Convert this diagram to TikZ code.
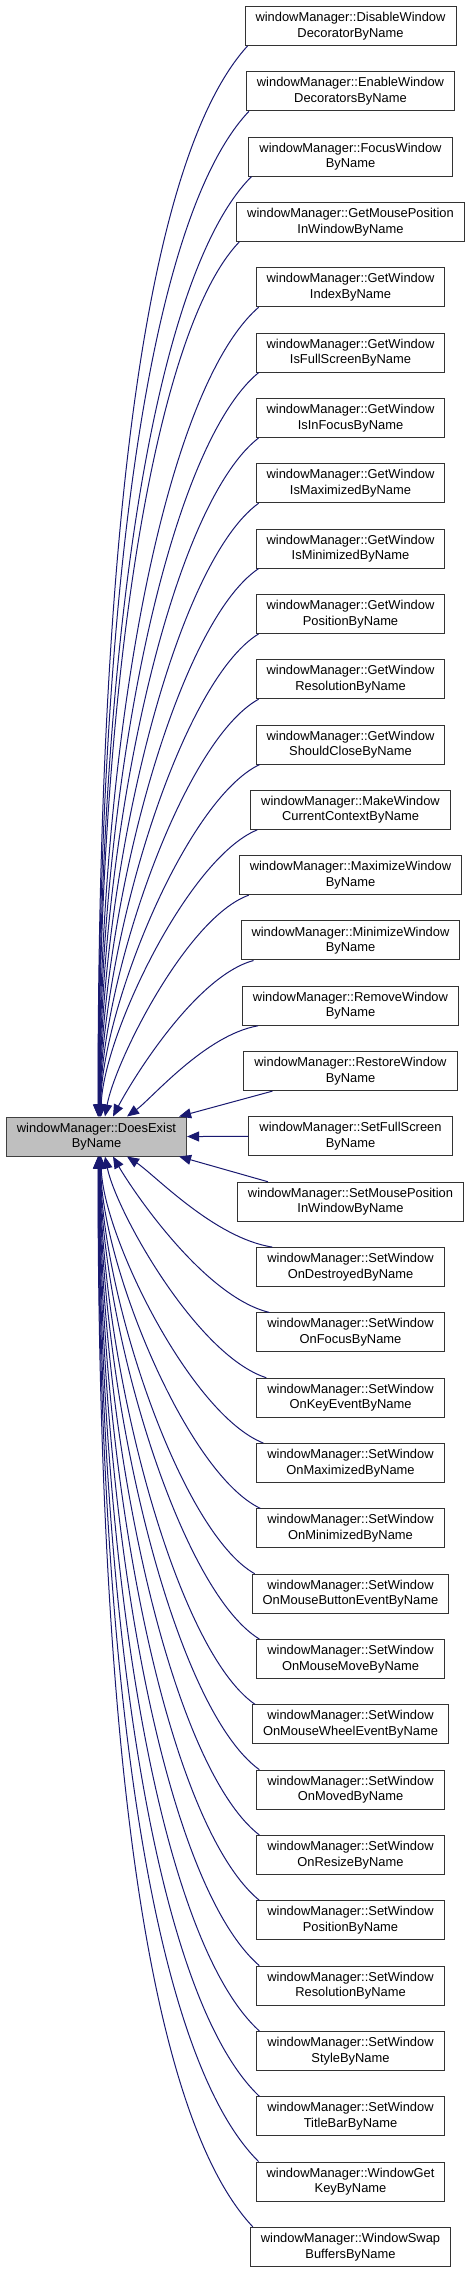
\documentclass[tikz,border=0pt]{standalone}
\usepackage{fontspec}
\setmainfont{Liberation Sans}
\usetikzlibrary{arrows.meta,calc}
\definecolor{edgec}{RGB}{25,25,112}
\tikzset{
  fn/.style={draw=black!80, line width=1pt, fill=white, align=center, inner xsep=10.5pt, inner ysep=0pt, minimum height=39pt, font=\fontsize{12.9}{15.6}\selectfont},
  mainn/.style={fn, fill=black!25, draw=black!75},
  edge/.style={draw=edgec, line width=1pt, -{Triangle[length=12pt,width=10pt]}},
}
\begin{document}
\begin{tikzpicture}[x=1pt,y=-1pt]
\useasboundingbox (0,0) rectangle (471,2273);
\node[mainn] (main) at (96.5,1136.5) {windowManager::DoesExist\\ByName};
\foreach \i/\a/\b in {1/DisableWindow/DecoratorByName,2/EnableWindow/DecoratorsByName,3/FocusWindow/ByName,4/GetMousePosition/InWindowByName,5/GetWindow/IndexByName,6/GetWindow/IsFullScreenByName,7/GetWindow/IsInFocusByName,8/GetWindow/IsMaximizedByName,9/GetWindow/IsMinimizedByName,10/GetWindow/PositionByName,11/GetWindow/ResolutionByName,12/GetWindow/ShouldCloseByName,13/MakeWindow/CurrentContextByName,14/MaximizeWindow/ByName,15/MinimizeWindow/ByName,16/RemoveWindow/ByName,17/RestoreWindow/ByName,18/SetFullScreen/ByName,19/SetMousePosition/InWindowByName,20/SetWindow/OnDestroyedByName,21/SetWindow/OnFocusByName,22/SetWindow/OnKeyEventByName,23/SetWindow/OnMaximizedByName,24/SetWindow/OnMinimizedByName,25/SetWindow/OnMouseButtonEventByName,26/SetWindow/OnMouseMoveByName,27/SetWindow/OnMouseWheelEventByName,28/SetWindow/OnMovedByName,29/SetWindow/OnResizeByName,30/SetWindow/PositionByName,31/SetWindow/ResolutionByName,32/SetWindow/StyleByName,33/SetWindow/TitleBarByName,34/WindowGet/KeyByName,35/WindowSwap/BuffersByName} {
  \node[fn] (n\i) at (350.5,{26+(\i-1)*65.32}) {windowManager::\a\\\b};
}
% upper curved edges
\foreach \i in {1,...,16} {
  \pgfmathsetmacro\k{17-\i}
  \pgfmathsetmacro\h{0.43+0.22*max(\k-3,0)/13-0.015*max(3-\k,0)}
  \pgfmathsetmacro\v{0.25+0.325*max(\k-3,0)/13-0.025*max(3-\k,0)}
  \pgfmathsetmacro\w{max(0,0.25-0.06*\k)}
  \pgfmathsetmacro\sx{max(3,19-3*\k)}
  \pgfmathsetmacro\ex{\k==1 ? 30.5 : (\k==2 ? 16.5 : (\k==3 ? 8.5 : 4.5-0.25*(\k-4)))}
  \draw[edge] let \p1=([xshift=\sx pt]n\i.south west), \p2=([xshift=\ex pt]main.north) in
    (\p1) .. controls ({\x1-\h*(\x1-\x2)},{\y1+0.1*(\y2-\y1)}) and ({\x2+\w*(\x1-\x2)},{\y2-\v*(\y2-\y1)}) .. (\p2);
}
% lower curved edges
\foreach \i in {20,...,35} {
  \pgfmathsetmacro\k{\i-19}
  \pgfmathsetmacro\h{0.43+0.22*max(\k-3,0)/13-0.015*max(3-\k,0)}
  \pgfmathsetmacro\v{0.25+0.325*max(\k-3,0)/13-0.025*max(3-\k,0)}
  \pgfmathsetmacro\w{max(0,0.25-0.06*\k)}
  \pgfmathsetmacro\sx{max(3,19-3*\k)}
  \pgfmathsetmacro\ex{\k==1 ? 30.5 : (\k==2 ? 16.5 : (\k==3 ? 8.5 : 4.5-0.25*(\k-4)))}
  \draw[edge] let \p1=([xshift=\sx pt]n\i.north west), \p2=([xshift=\ex pt]main.south) in
    (\p1) .. controls ({\x1-\h*(\x1-\x2)},{\y1+0.1*(\y2-\y1)}) and ({\x2+\w*(\x1-\x2)},{\y2-\v*(\y2-\y1)}) .. (\p2);
}
% near straight edges
\draw[edge] ([xshift=29pt]n17.south west) -- ([xshift=-8pt]main.north east);
\draw[edge] (n18.west) -- (main.east);
\draw[edge] ([xshift=31pt]n19.north west) -- ([xshift=-8pt]main.south east);
\end{tikzpicture}
\end{document}
